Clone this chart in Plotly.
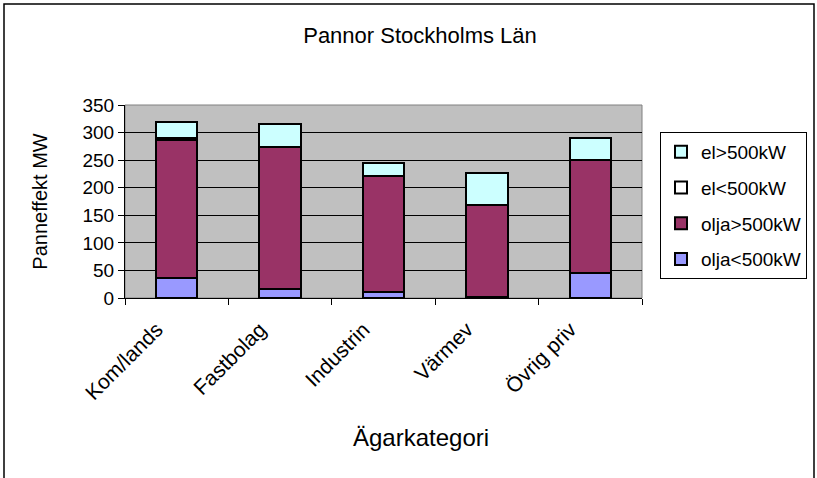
import plotly.graph_objects as go

kategorier = ['Kom/lands', 'Fastbolag', 'Industrin', 'Värmev', 'Övrig priv']
olja_under = [36, 16, 10, 1, 45]
olja_over = [250, 257, 212, 167, 205]
el_under = [4, 0, 0, 0, 0]
el_over = [29, 43, 23, 59, 41]

serier = [
    ('olja<500kW', olja_under, '#9999FF'),
    ('olja>500kW', olja_over, '#993366'),
    ('el<500kW', el_under, '#FFFFFF'),
    ('el>500kW', el_over, '#CCFFFF'),
]

typsnitt = 'Liberation Sans, Arial, sans-serif'

fig = go.Figure()
for i, (namn, varden, farg) in enumerate(serier):
    fig.add_trace(go.Bar(x=kategorier, y=varden, name=namn, legendgroup=namn,
                         legendrank=len(serier) - i,
                         marker=dict(color=farg, line=dict(color='black', width=2))))

# plotytan: x 125-642, y 105-298 px
fig.update_layout(
    width=817, height=478,
    barmode='stack', bargap=0.6,
    paper_bgcolor='white', plot_bgcolor='#C0C0C0',
    font=dict(family=typsnitt, size=19, color='black'),
    margin=dict(l=125, r=175, t=105, b=180, autoexpand=False),
    title=dict(text='Pannor Stockholms Län', x=420 / 817, xanchor='center',
               y=1 - 35 / 478, yanchor='middle', font=dict(size=22)),
    legend=dict(x=(660 - 125) / 517, y=(298 - 132) / 193, yanchor='top', xanchor='left',
                traceorder='grouped', tracegroupgap=8, itemwidth=30,
                bordercolor='black', borderwidth=1, bgcolor='white',
                font=dict(size=19)),
    showlegend=True,
)
fig.update_yaxes(range=[0, 350], dtick=50, showgrid=True, gridcolor='black', gridwidth=1,
                 showline=True, linecolor='black', linewidth=1, ticks='outside', ticklen=6,
                 tickcolor='black', zeroline=False,
                 title=dict(text='Panneffekt MW', standoff=29, font=dict(size=20)))
fig.update_xaxes(showline=True, linecolor='black', linewidth=1, ticks='outside', ticklen=6,
                 tickcolor='black', tickson='boundaries', tickangle=-45,
                 tickfont=dict(size=21), ticklabelshift=-20, ticklabelstandoff=10)
# x-axelns rubrik ligger något till höger om plotytans mitt
fig.add_annotation(text='Ägarkategori', xref='paper', yref='paper',
                   x=(421 - 125) / 517, y=(298 - 437) / 193, xanchor='center', yanchor='middle',
                   showarrow=False, font=dict(size=24))
# ram runt diagramytan och hela diagrammet
fig.add_shape(type='rect', xref='paper', yref='paper', x0=0, x1=1, y0=0, y1=1,
              line=dict(color='#808080', width=1), layer='below')
fig.add_shape(type='rect', xref='paper', yref='paper',
              x0=-121 / 517, x1=689 / 517, y0=-200 / 193, y1=294 / 193,
              line=dict(color='black', width=1.5))

fig.write_html('out.html', config={'displayModeBar': False},
               post_script="document.body.style.margin='0';")
